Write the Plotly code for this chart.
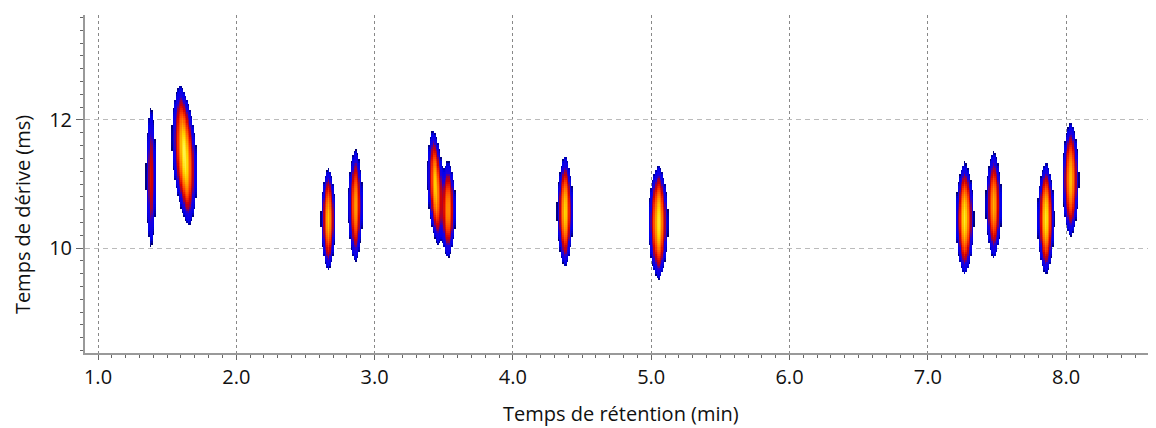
import numpy as np
import plotly.graph_objects as go

# ---- peak data ----
peak_rt = [1.383, 1.625, 2.665, 2.86, 3.44, 3.53, 4.375, 5.05, 7.265, 7.475, 7.85, 8.03]        # centre, min
peak_dt = [11.1, 11.45, 10.45, 10.66, 10.95, 10.6, 10.57, 10.4, 10.46, 10.67, 10.46, 11.07]     # centre, ms
peak_rt_half = [0.038, 0.09, 0.055, 0.055, 0.06, 0.055, 0.06, 0.072, 0.066, 0.06, 0.064, 0.06]  # min
peak_dt_half = [1.1, 1.1, 0.8, 0.88, 0.9, 0.75, 0.87, 0.9, 0.88, 0.83, 0.88, 0.9]               # ms
peak_level = [0.55, 1.0, 0.88, 0.82, 0.9, 0.8, 0.92, 0.96, 0.96, 0.85, 0.96, 0.88]              # max colour level
peak_tilt = [0.0, -0.03, 0.0, 0.0, -0.02, 0.0, 0.0, 0.0, 0.0, 0.0, 0.0, 0.0]                    # rt shift per ms

x_ticks = [1.0, 2.0, 3.0, 4.0, 5.0, 6.0, 7.0, 8.0]
y_ticks = [10, 12]
x_range = [0.906, 8.65]
y_range = [8.36, 13.64]

# ---- build intensity map from the peak parameters ----
thr = 0.03
K = np.log(1 / thr)
rt_grid = np.arange(x_range[0], x_range[1], 0.011)
dt_grid = np.arange(y_range[0], y_range[1], 0.032)
RT, DT = np.meshgrid(rt_grid, dt_grid)
Z = np.zeros_like(RT)
for x0, y0, wx, wy, lv, t in zip(peak_rt, peak_dt, peak_rt_half, peak_dt_half, peak_level, peak_tilt):
    u = (RT - x0 - t * (DT - y0)) / wx
    v = (DT - y0) / wy
    Z += thr * np.exp(K * lv * (1 - np.abs(u) ** 1.4 - v ** 2))
C = np.log(Z / thr) / K
C = np.where(C < 0, np.nan, np.minimum(C, 1.0))

colorscale = [
    [0.00, "rgb(0,0,110)"],
    [0.05, "rgb(0,0,190)"],
    [0.10, "rgb(0,0,240)"],
    [0.31, "rgb(30,0,220)"],
    [0.40, "rgb(150,0,70)"],
    [0.50, "rgb(210,0,0)"],
    [0.64, "rgb(255,60,0)"],
    [0.78, "rgb(255,140,0)"],
    [0.90, "rgb(255,215,0)"],
    [1.00, "rgb(255,245,80)"],
]

fig = go.Figure(go.Heatmap(
    x=rt_grid, y=dt_grid, z=C, colorscale=colorscale, zmin=0, zmax=1.0,
    showscale=False, hoverinfo="skip",
))

font_family = "Open Sans, Liberation Sans, sans-serif"
# page body has an 8px margin, so the figure is 8px smaller and margins shifted
fig.update_layout(
    width=1148, height=420,
    margin=dict(l=77, r=0, t=7, b=75),
    paper_bgcolor="white", plot_bgcolor="white",
    font=dict(family=font_family, size=20, color="#111"),
    xaxis=dict(
        range=x_range, tickvals=x_ticks, ticktext=[f"{v:.1f}" for v in x_ticks],
        showgrid=True, gridcolor="#888", griddash="3px,3px", gridwidth=1,
        showline=True, linecolor="#999", linewidth=2,
        ticks="outside", ticklen=5, tickcolor="#666",
        minor=dict(dtick=0.1, tick0=1.0, ticks="outside", ticklen=3, tickcolor="#666", showgrid=False),
        zeroline=False, tickfont=dict(size=20),
    ),
    yaxis=dict(
        range=y_range, tickvals=y_ticks, ticktext=[str(v) for v in y_ticks],
        showgrid=True, gridcolor="#bbb", griddash="5px,4px", gridwidth=1,
        showline=True, linecolor="#999", linewidth=2,
        ticks="outside", ticklen=7, tickcolor="#666",
        minor=dict(dtick=0.2, tick0=10, ticks="outside", ticklen=3, tickcolor="#666", showgrid=False),
        zeroline=False, tickfont=dict(size=20),
    ),
    annotations=[
        dict(text="Temps de rétention (min)", xref="paper", yref="paper",
             x=0.5, y=-0.18, xanchor="center", yanchor="middle", showarrow=False,
             font=dict(size=20)),
        dict(text="Temps de dérive (ms)", xref="paper", yref="paper",
             x=-0.0588, y=0.408, xanchor="center", yanchor="middle", textangle=-90,
             showarrow=False, font=dict(size=20)),
    ],
)

fig.write_html("out.html")
